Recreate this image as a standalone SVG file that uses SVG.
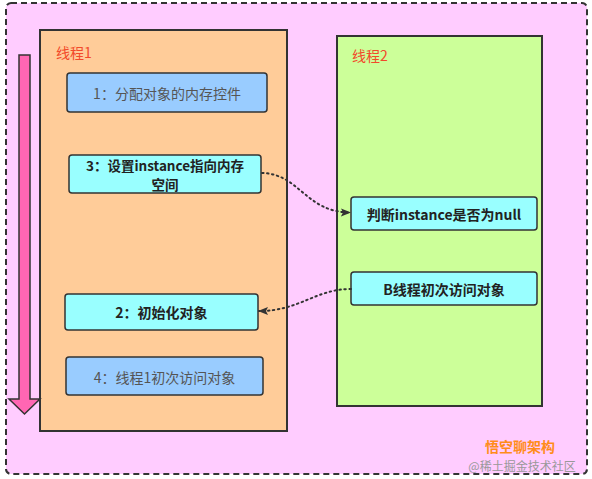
<svg xmlns="http://www.w3.org/2000/svg" width="592" height="479" viewBox="0 0 592 479">
<defs>
<style>
.lane{stroke:#333;stroke-width:2}
.box{stroke:#333;stroke-width:1.5}
.t{font-family:"Noto Sans CJK SC","Noto Sans",sans-serif;font-size:14px;text-anchor:middle;dominant-baseline:central}
.gray{fill:#555}
.bold{fill:#222;font-weight:bold}
.lbl{font-family:"Noto Sans CJK SC","Noto Sans",sans-serif;font-size:14px;fill:#f24a2a}
.conn{fill:none;stroke:#333;stroke-width:2;stroke-dasharray:1.5 3.5;stroke-linecap:round}
</style>
<marker id="ah" viewBox="0 0 10 10" refX="9" refY="5" markerWidth="10" markerHeight="10" markerUnits="userSpaceOnUse" orient="auto">
<path d="M0,1 L10,5 L0,9 L2,5 Z" fill="#333"/>
</marker>
</defs>
<rect x="0" y="0" width="592" height="479" fill="#ffffff"/>
<rect id="frame" x="6" y="3" width="581" height="471" rx="5" fill="#ffccff" stroke="#333" stroke-width="2" stroke-dasharray="6 4"/>
<g id="thread1">
<rect class="lane" x="40" y="30" width="247" height="401" fill="#ffcc99"/>
<text class="lbl" x="56" y="58">线程1</text>
</g>
<g id="thread2">
<rect class="lane" x="337" y="36" width="205" height="370" fill="#ccff99"/>
<text class="lbl" x="352" y="61">线程2</text>
</g>
<g id="timeArrow">
<path d="M19,55 H30 V399 H40 L24.5,414 L9,399 H19 Z" fill="#ff66b3" stroke="#333" stroke-width="1.5" stroke-linejoin="miter"/>
</g>
<g id="step1">
<rect class="box" x="67" y="73" width="200" height="39" rx="3" fill="#99ccff"/>
<text class="t gray" x="167" y="93">1：分配对象的内存控件</text>
</g>
<g id="step3">
<rect class="box" x="69" y="155" width="192" height="38" rx="3" fill="#99ffff"/>
<text class="t bold" x="165" y="164.5" style="font-size:13.5px">3：设置instance指向内存</text>
<text class="t bold" x="165" y="184" style="font-size:13.5px">空间</text>
</g>
<g id="step2">
<rect class="box" x="65" y="294" width="193" height="36" rx="3" fill="#99ffff"/>
<text class="t bold" x="161.5" y="312">2：初始化对象</text>
</g>
<g id="step4">
<rect class="box" x="66" y="357" width="197" height="38" rx="3" fill="#99ccff"/>
<text class="t gray" x="164.5" y="377">4：线程1初次访问对象</text>
</g>
<g id="check">
<rect class="box" x="351" y="197" width="186" height="33" rx="3" fill="#99ffff"/>
<text class="t bold" x="444" y="213.5">判断instance是否为null</text>
</g>
<g id="bAccess">
<rect class="box" x="351" y="272" width="186" height="33" rx="3" fill="#99ffff"/>
<text class="t bold" x="444" y="288.5">B线程初次访问对象</text>
</g>
<g id="connectors">
<path class="conn" d="M262,173 C300,174 305,212 350,212.5" marker-end="url(#ah)"/>
<path class="conn" d="M351,289 C315,289 300,311 259,311" marker-end="url(#ah)"/>
</g>
<text x="520" y="446" font-family="'Noto Sans CJK SC',sans-serif" font-size="14" font-weight="bold" fill="#ff8c1a" text-anchor="middle" dominant-baseline="central">悟空聊架构</text>
<text x="522" y="465" font-family="'Noto Sans CJK SC',sans-serif" font-size="12" fill="#999" text-anchor="middle" dominant-baseline="central">@稀土掘金技术社区</text>
</svg>
